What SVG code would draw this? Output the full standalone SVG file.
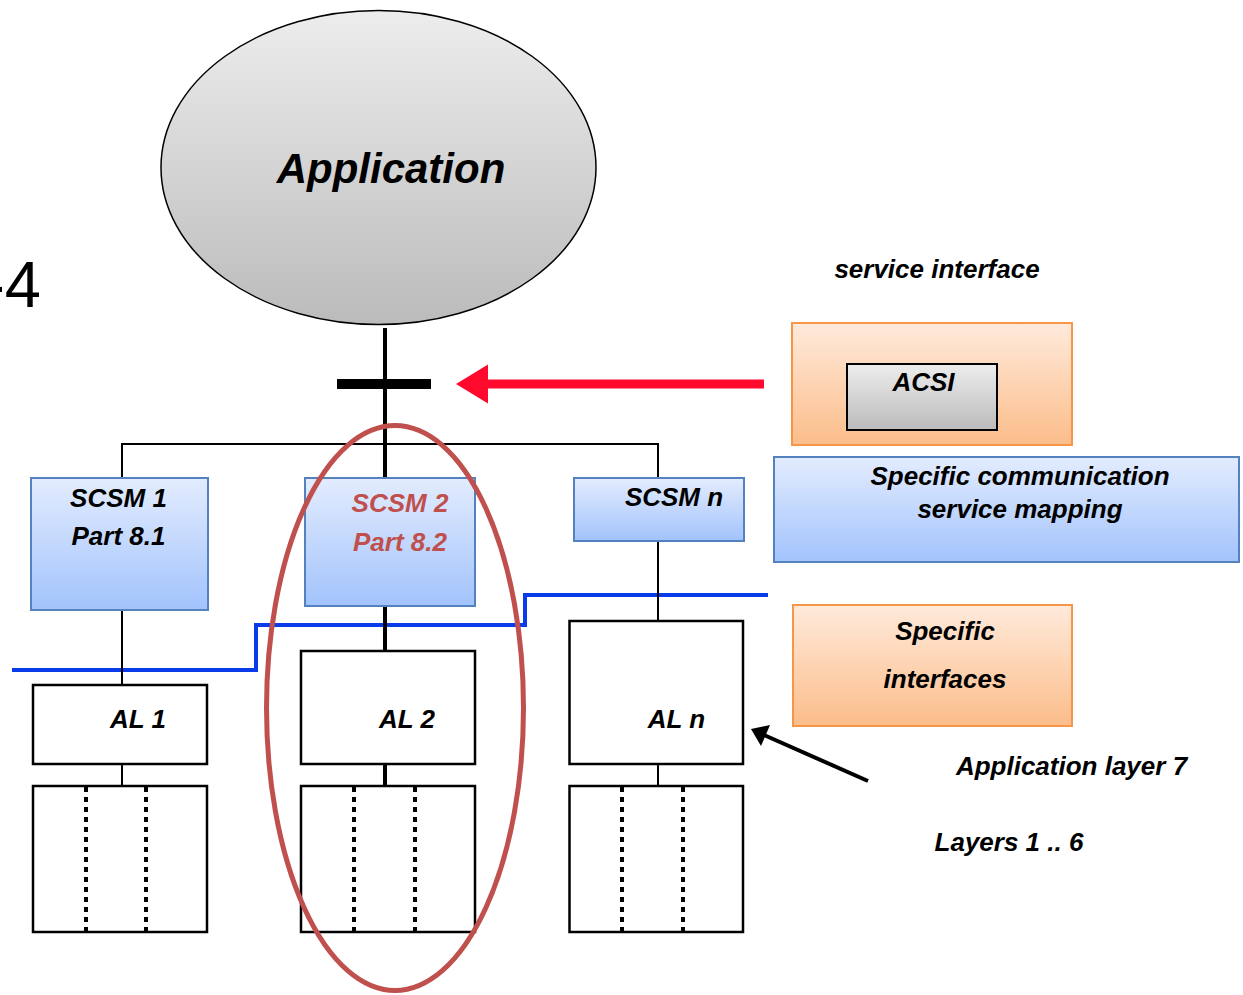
<svg xmlns="http://www.w3.org/2000/svg" width="1243" height="995" viewBox="0 0 1243 995">
<defs>
<linearGradient id="gGray" x1="0" y1="0" x2="0" y2="1"><stop offset="0" stop-color="#EDEDED"/><stop offset="1" stop-color="#BBBBBB"/></linearGradient>
<linearGradient id="gBlue" x1="0" y1="0" x2="0" y2="1"><stop offset="0" stop-color="#E3ECFE"/><stop offset="1" stop-color="#A2C3FC"/></linearGradient>
<linearGradient id="gOrange" x1="0" y1="0" x2="0" y2="1"><stop offset="0" stop-color="#FFEADB"/><stop offset="1" stop-color="#FBBD8A"/></linearGradient>
<style>
text{font-family:"Liberation Sans",Arial,sans-serif;font-weight:bold;font-style:italic;font-size:26px;fill:#000;text-anchor:middle}
.blue{fill:url(#gBlue);stroke:#5382BE;stroke-width:2}
.orange{fill:url(#gOrange);stroke:#F79646;stroke-width:2}
.box{fill:#fff;stroke:#000;stroke-width:2.5}
.thin{stroke:#000;stroke-width:2;fill:none}
.thick{stroke:#000;stroke-width:4;fill:none}
.dot{stroke:#000;stroke-width:4;stroke-dasharray:5 5;fill:none}
.red{fill:#C0504D}
</style>
</defs>
<rect width="1243" height="995" fill="#fff"/>
<text x="41" y="307" style="font-size:65px;font-weight:normal;font-style:normal;text-anchor:end">-4</text>

<g id="application">
<ellipse cx="378.5" cy="167.5" rx="217.5" ry="157" fill="url(#gGray)" stroke="#000" stroke-width="1.5"/>
<text x="391" y="183" style="font-size:42px">Application</text>
</g>

<g id="blue-boundary">
<polyline points="12,670 256,670 256,625 525,625 525,595 768,595" fill="none" stroke="#0A3BEA" stroke-width="4"/>
</g>

<g id="connectors">
<line class="thick" x1="385" y1="328" x2="385" y2="478"/>
<rect x="337" y="379" width="94" height="10" fill="#000"/>
<polyline class="thin" points="122,478 122,444 658,444 658,478"/>
<line class="thin" x1="122" y1="610" x2="122" y2="684"/>
<line class="thick" x1="385" y1="606" x2="385" y2="651"/>
<line class="thin" x1="658" y1="541" x2="658" y2="621"/>
<line class="thin" x1="122" y1="764" x2="122" y2="786"/>
<line class="thick" x1="385" y1="764" x2="385" y2="786"/>
<line class="thin" x1="658" y1="764" x2="658" y2="786"/>
<rect x="484" y="379.5" width="280" height="9" fill="#FF0A2C"/>
<polygon points="456,384 488,364.5 488,403.5" fill="#FF0A2C"/>
<line x1="868" y1="781" x2="764" y2="735" stroke="#000" stroke-width="4"/>
<polygon points="751,729 770,725 761,746" fill="#000"/>
</g>

<g id="scsm1">
<rect class="blue" x="31" y="478" width="177" height="132"/>
<text x="118.5" y="507">SCSM 1</text>
<text x="118.5" y="545">Part 8.1</text>
</g>
<g id="scsm2">
<rect class="blue" x="305" y="478" width="170" height="128"/>
<text class="red" x="400" y="512">SCSM 2</text>
<text class="red" x="400" y="551">Part 8.2</text>
</g>
<g id="scsmn">
<rect class="blue" x="574" y="478" width="170" height="63"/>
<text x="674" y="506">SCSM n</text>
</g>

<g id="al1">
<rect class="box" x="33" y="685" width="174" height="79"/>
<text x="138" y="728">AL 1</text>
</g>
<g id="al2">
<rect class="box" x="301" y="651" width="174" height="113"/>
<text x="407" y="728">AL 2</text>
</g>
<g id="aln">
<rect class="box" x="569.5" y="621" width="173.5" height="143"/>
<text x="676.5" y="728">AL n</text>
</g>

<g id="layers1">
<rect class="box" x="33" y="786" width="174" height="146"/>
<line class="dot" x1="86" y1="787" x2="86" y2="931"/>
<line class="dot" x1="146" y1="787" x2="146" y2="931"/>
</g>
<g id="layers2">
<rect class="box" x="301" y="786" width="174" height="146"/>
<line class="dot" x1="354" y1="787" x2="354" y2="931"/>
<line class="dot" x1="415" y1="787" x2="415" y2="931"/>
</g>
<g id="layersn">
<rect class="box" x="569.5" y="786" width="173.5" height="146"/>
<line class="dot" x1="622" y1="787" x2="622" y2="931"/>
<line class="dot" x1="683" y1="787" x2="683" y2="931"/>
</g>

<g id="service-interface-label">
<text x="937" y="278">service interface</text>
</g>
<g id="acsi-box">
<rect class="orange" x="792" y="323" width="280" height="122"/>
<rect x="847" y="364" width="150" height="66" fill="url(#gGray)" stroke="#000" stroke-width="2"/>
<text x="923.5" y="391">ACSI</text>
</g>
<g id="scsm-legend">
<rect class="blue" x="774" y="457" width="465" height="105"/>
<text x="1020" y="485">Specific communication</text>
<text x="1020" y="518">service mapping</text>
</g>
<g id="specific-interfaces">
<rect class="orange" x="793" y="605" width="279" height="121"/>
<text x="945" y="640">Specific</text>
<text x="945" y="688">interfaces</text>
</g>
<g id="layer-labels">
<text x="1071.5" y="775">Application layer 7</text>
<text x="1009" y="851">Layers 1 .. 6</text>
</g>

<g id="highlight">
<ellipse cx="395" cy="708" rx="128.5" ry="282.5" fill="none" stroke="#C0504D" stroke-width="5"/>
</g>
</svg>
